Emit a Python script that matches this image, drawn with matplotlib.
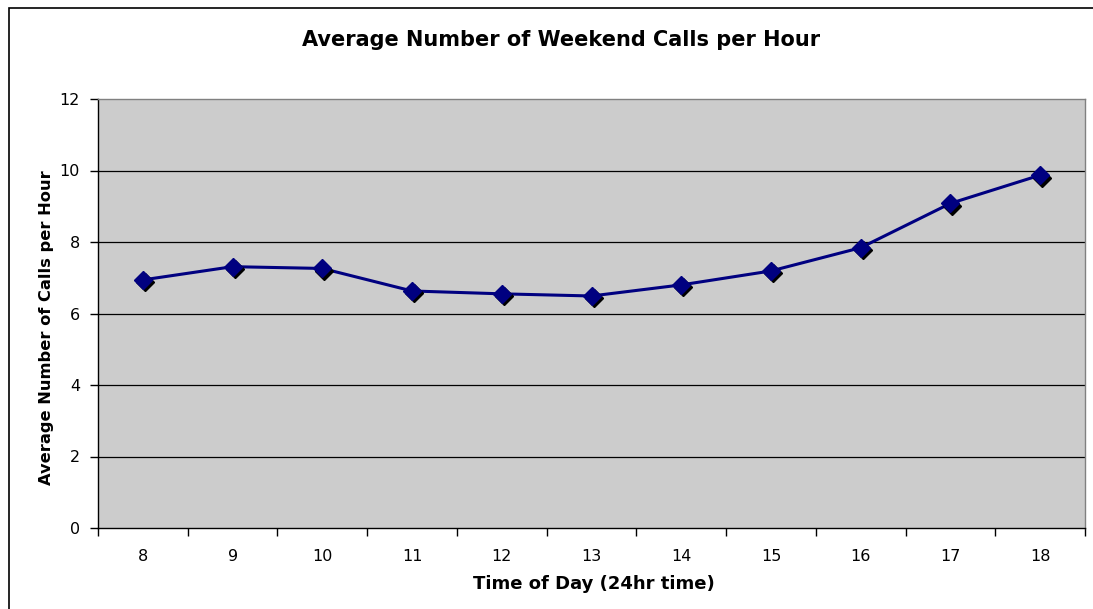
import matplotlib
matplotlib.use("Agg")
import matplotlib.pyplot as plt
import matplotlib.transforms as mtransforms
from matplotlib.patches import Rectangle

hours = ["8", "9", "10", "11", "12", "13", "14", "15", "16", "17", "18"]
calls = [6.94, 7.31, 7.26, 6.63, 6.55, 6.49, 6.80, 7.19, 7.84, 9.08, 9.87]
y_ticks = [0, 2, 4, 6, 8, 10, 12]

plt.rcParams['font.family'] = ['DejaVu Sans']

W, H = 1093, 609
fig = plt.figure(figsize=(W / 100, H / 100), dpi=100)
fig.patch.set_facecolor('white')
ax = fig.add_axes([98 / W, 81 / H, 987 / W, 429 / H])
ax.set_facecolor('#CCCCCC')

x = list(range(len(hours)))
shadow = mtransforms.offset_copy(ax.transData, fig=fig, x=2, y=-2.5, units='dots')
ax.plot(x, calls, color='#000080', lw=2.2, zorder=3)
ax.plot(x, calls, ls='none', marker='D', ms=9, mfc='black', mec='black',
        transform=shadow, zorder=4)
ax.plot(x, calls, ls='none', marker='D', ms=9, mfc='#000080', mec='#000080', zorder=5)

ax.set_xlim(-0.5, len(hours) - 0.5)
ax.set_ylim(0, 12)
ax.set_yticks(y_ticks)
ax.set_yticklabels([str(v) for v in y_ticks], fontsize=11.5)
ax.set_xticks([i - 0.5 for i in range(len(hours) + 1)])
ax.set_xticklabels([])
ax.set_xticks(x, minor=True)
ax.set_xticklabels(hours, minor=True, fontsize=11.5)
ax.tick_params(axis='x', which='major', length=6, width=1, direction='out', color='black')
ax.tick_params(axis='x', which='minor', length=0, pad=15)
ax.tick_params(axis='y', length=6, width=1, direction='out', pad=7)

for v in y_ticks[1:-1]:
    ax.axhline(v, color='black', lw=0.9, zorder=1)

ax.spines['left'].set_color('black')
ax.spines['bottom'].set_color('black')
ax.spines['top'].set_color('#808080')
ax.spines['right'].set_color('#808080')
for s in ax.spines.values():
    s.set_linewidth(1)

fig.text(561 / W, 1 - 46 / H, "Average Number of Weekend Calls per Hour",
         ha='center', va='baseline', fontsize=15, fontweight='bold')
fig.text(594 / W, 1 - 589 / H, "Time of Day (24hr time)",
         ha='center', va='baseline', fontsize=13, fontweight='bold')
fig.text(51 / W, 1 - 328 / H, "Average Number of Calls per Hour",
         ha='center', va='baseline', rotation=90, rotation_mode='anchor',
         fontsize=11.7, fontweight='bold')

fig.patches.append(Rectangle((9 / W, -10 / H), 1200 / W, 611 / H, transform=fig.transFigure,
                             fill=False, edgecolor='black', lw=1.2, clip_on=False))

fig.savefig("out.png", dpi=100)
